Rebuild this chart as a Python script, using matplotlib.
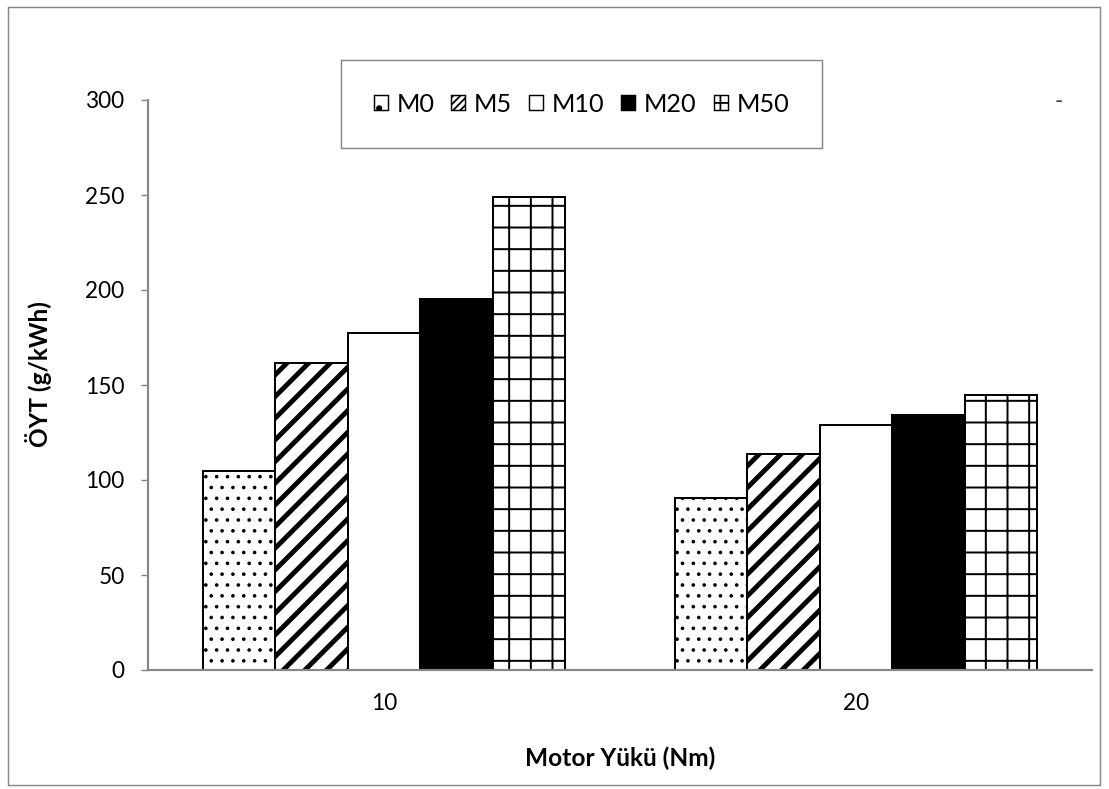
import numpy as np
import matplotlib
matplotlib.use('Agg')
import matplotlib.pyplot as plt
from matplotlib.patches import Rectangle

# values
loads = ['10', '20']
series = ['M0', 'M5', 'M10', 'M20', 'M50']
m0 = [104.7, 90.4]
m5 = [161.4, 113.5]
m10 = [177.5, 128.9]
m20 = [195.1, 134.2]
m50 = [249.1, 144.7]
yticks = [0, 50, 100, 150, 200, 250, 300]

values = [m0, m5, m10, m20, m50]
# facecolor, hatch, hatch linewidth, legend hatch
styles = [('white', '..', 0.8, '.'),
          ('white', '//', 2.7, '//////'),
          ('white', '', 1.0, ''),
          ('black', '', 1.0, ''),
          ('white', '+', 1.1, '++')]

plt.rcParams['font.family'] = ['Lato', 'DejaVu Sans']
FS = 12.5
plt.rcParams['font.size'] = FS

DPI = 130
W, H = 1109, 789
fig = plt.figure(figsize=(W / DPI, H / DPI), dpi=DPI)
ax = fig.add_axes([148 / W, (H - 670) / H, (1092 - 148) / W, 570 / H])

gray = '#868686'
x = np.arange(len(loads))
w = 0.1536
handles = []
for i, (name, vals) in enumerate(zip(series, values)):
    fc, hatch, hlw, lhatch = styles[i]
    with plt.rc_context({'hatch.linewidth': hlw, 'hatch.color': 'black'}):
        b = ax.bar(x + (i - 2) * w, vals, width=w, color=fc, edgecolor='black',
                   linewidth=1.1, hatch=hatch, label=name, zorder=2)
    for p in b:
        if hasattr(p, 'set_hatch_linewidth'):
            p.set_hatch_linewidth(hlw)
    # legend proxy with a denser hatch so the pattern shows in the small box
    lhlw = min(hlw, 2.0)
    with plt.rc_context({'hatch.linewidth': lhlw, 'hatch.color': 'black'}):
        h = Rectangle((0, 0), 1, 1, facecolor=fc, edgecolor='black',
                      linewidth=0.8, hatch=lhatch)
    if hasattr(h, 'set_hatch_linewidth'):
        h.set_hatch_linewidth(lhlw)
    handles.append(h)

ax.set_xlim(-0.5, 1.5)
ax.set_ylim(0, 300)
ax.set_yticks(yticks)
ax.set_xticks(x)
ax.set_xticklabels(loads)
ax.tick_params(axis='y', direction='out', length=4, width=0.8, color=gray, pad=9, labelsize=FS)
ax.tick_params(axis='x', length=0, pad=13, labelsize=FS)

for s in ['top', 'right']:
    ax.spines[s].set_visible(False)
for s in ['left', 'bottom']:
    ax.spines[s].set_color(gray)
    ax.spines[s].set_linewidth(1.2)
    ax.spines[s].set_zorder(3)

ax.set_xlabel('Motor Yükü (Nm)', fontweight='bold', fontsize=13.5)
ax.set_ylabel('ÖYT (g/kWh)', fontweight='bold', fontsize=13.5)
ax.xaxis.set_label_coords(0.5, -0.135)
ax.yaxis.set_label_coords(-0.1017, 0.52)

leg = fig.legend(handles=handles, labels=series, loc='center', ncol=5,
                 bbox_to_anchor=(341 / W, (H - 147) / H, 481 / W, 86 / H),
                 mode='expand', borderaxespad=0, borderpad=1.3,
                 handlelength=0.55, handleheight=0.55,
                 handletextpad=0.35, fancybox=False, framealpha=1, fontsize=14)
leg.get_frame().set_edgecolor(gray)
leg.get_frame().set_linewidth(0.8)

fig.text(1059 / W, (H - 101) / H, '-', ha='center', va='center', fontsize=FS, color='#404040')

# outer chart border
fig.patches.append(Rectangle((8 / W, (H - 785) / H), (1100 - 8) / W, (785 - 7) / H,
                             transform=fig.transFigure, fill=False, edgecolor=gray,
                             linewidth=0.8))

fig.savefig('out.png', dpi=DPI)
